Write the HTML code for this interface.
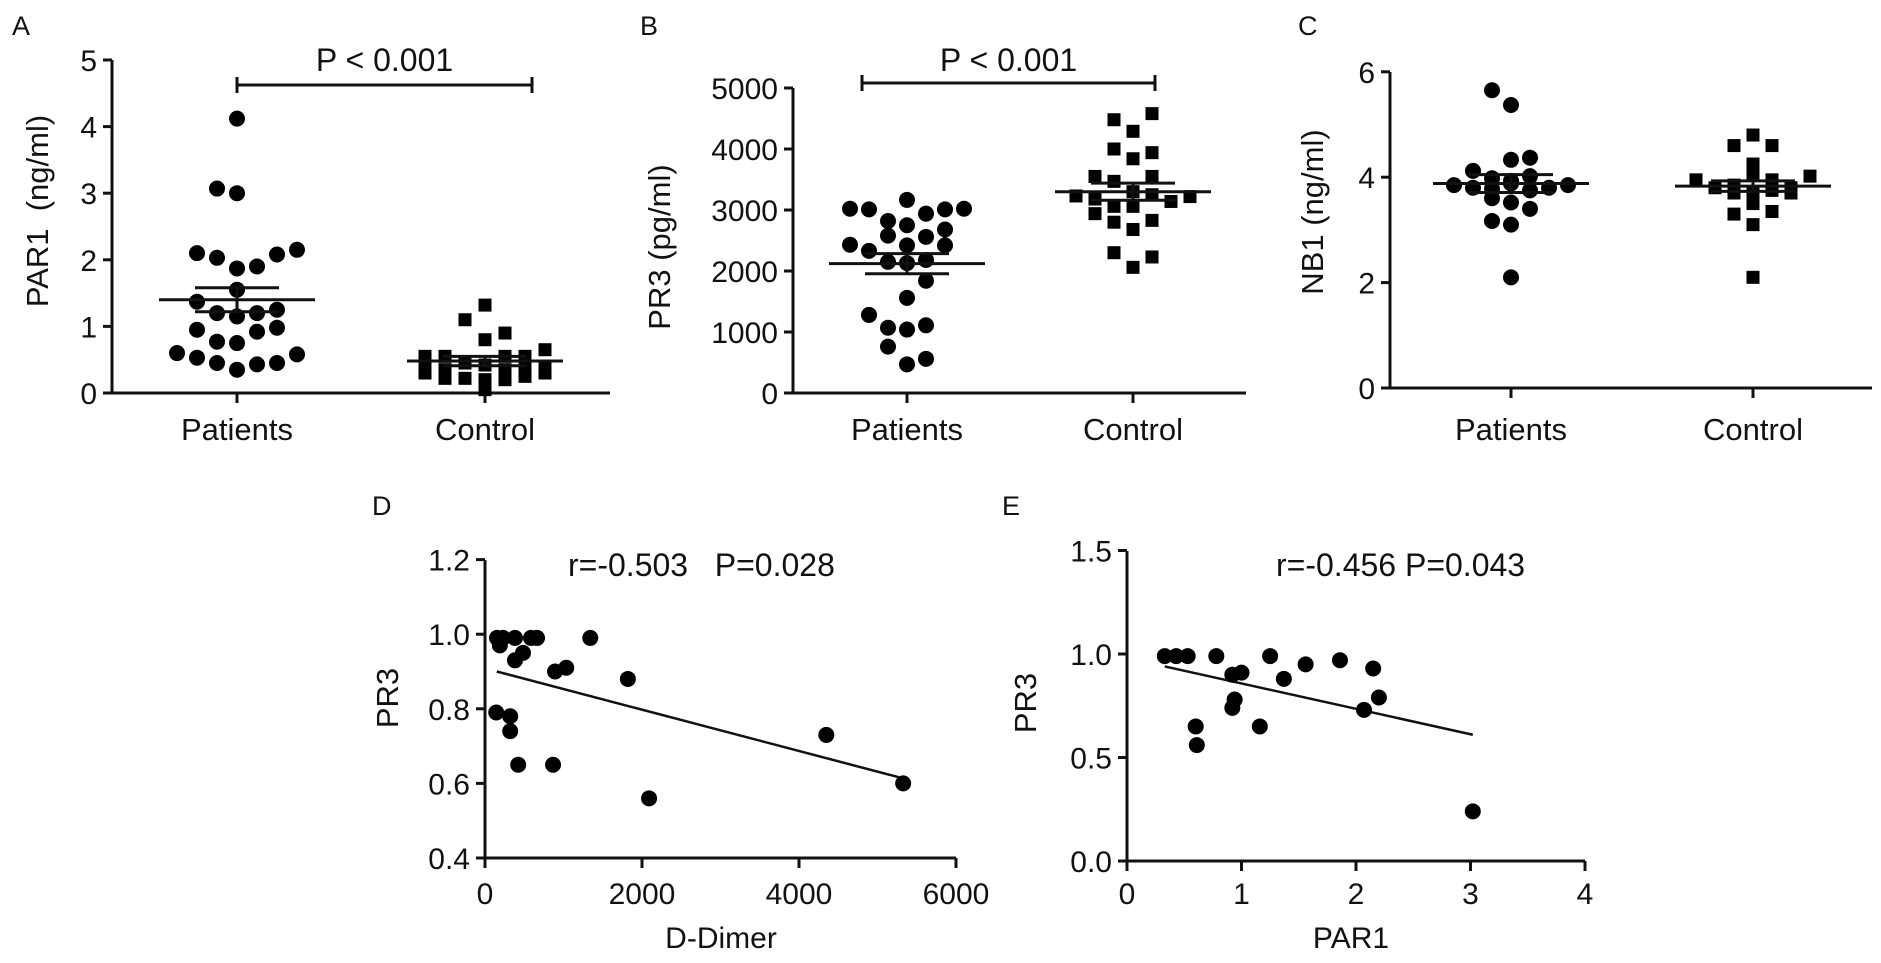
<!DOCTYPE html>
<html><head><meta charset="utf-8"><style>
html,body{margin:0;padding:0;background:#fff;}
svg{display:block;font-family:"Liberation Sans",Arial,sans-serif;}
text{fill:#111;white-space:pre;}
</style></head>
<body>
<svg id="fig" width="1881" height="963" viewBox="0 0 1881 963" xmlns="http://www.w3.org/2000/svg"></svg>
<script>
// ---------- data ----------
const catLabels = ["Patients", "Control"];
// Panel A: PAR1 (ng/ml) — [jitter slot, value]
const aPatients = [[0,4.12],[-1,3.07],[0,3.0],[-2,2.1],[-1,2.03],[0,1.87],[1,1.9],[2,2.08],[3,2.15],[-2,1.37],[0,1.55],[-1,1.2],[0,1.15],[1,1.2],[2,1.25],[-2,0.95],[1,0.92],[2,0.98],[-1,0.77],[0,0.75],[-3,0.6],[-2,0.53],[3,0.58],[-1,0.45],[0,0.35],[1,0.43],[2,0.45]];
const aControl = [[0,1.32],[-1,1.1],[0,0.8],[1,0.9],[3,0.65],[-3,0.55],[-2,0.55],[1,0.55],[2,0.55],[-3,0.42],[-1,0.45],[0,0.42],[2,0.42],[3,0.38],[-3,0.3],[-2,0.22],[-1,0.22],[0,0.2],[1,0.2],[2,0.25],[3,0.3],[0,0.05],[1,0.35],[-2,0.35]];
const aStats = {pMean:1.4, pSem:0.18, cMean:0.48, cSem:0.07};
const aTicks = [0,1,2,3,4,5];
// Panel B: PR3 (pg/ml)
const bPatients = [[0,3165],[-3,3020],[-2,3010],[1,2940],[2,3010],[3,3020],[-1,2820],[0,2750],[2,2680],[-1,2580],[1,2560],[-3,2430],[-2,2330],[0,2420],[2,2420],[-1,2150],[0,2130],[1,2180],[1,1840],[0,1560],[-2,1280],[-1,1070],[0,1040],[1,1110],[-1,760],[0,470],[1,560]];
const bControl = [[1,4580],[-1,4480],[0,4290],[-1,4000],[1,3940],[0,3840],[-2,3550],[-1,3470],[1,3550],[0,3300],[-3,3230],[-2,3180],[-1,3060],[0,3060],[1,3250],[2,3140],[3,3220],[-2,2940],[-1,2800],[1,2830],[0,2680],[-1,2300],[1,2230],[0,2060]];
const bStats = {pMean:2120, pSem:165, cMean:3300, cSem:140};
const bTicks = [0,1000,2000,3000,4000,5000];
// Panel C: NB1 (ng/ml)
const cPatients = [[-1,5.65],[0,5.37],[1,4.37],[0,4.33],[-2,4.12],[-1,3.98],[0,3.93],[1,4.02],[-3,3.85],[-2,3.8],[-1,3.78],[0,3.88],[1,3.75],[2,3.8],[3,3.85],[-1,3.6],[0,3.52],[1,3.4],[-1,3.17],[0,3.1],[0,2.1]];
const cControl = [[0,4.8],[-1,4.6],[1,4.6],[0,4.25],[-3,3.95],[3,4.02],[-2,3.8],[-1,3.85],[0,4.05],[1,3.95],[2,3.8],[-1,3.7],[0,3.72],[1,3.75],[2,3.7],[0,3.5],[1,3.35],[-1,3.3],[0,3.1],[0,2.1]];
const cStats = {pMean:3.88, pSem:0.17, cMean:3.83, cSem:0.1};
const cTicks = [0,2,4,6];
// Panel D: D-Dimer vs PR3
const dX = [153,229,189,382,586,663,382,484,1341,892,1035,1820,143,321,321,423,867,2090,4348,5327];
const dY = [0.99,0.99,0.97,0.99,0.99,0.99,0.93,0.95,0.99,0.90,0.91,0.88,0.79,0.78,0.74,0.65,0.65,0.56,0.73,0.60];
const dFit = [[150,0.90],[5300,0.615]];
const dXTicks = [0,2000,4000,6000];
const dYTicks = [0.4,0.6,0.8,1.0,1.2];
// Panel E: PAR1 vs PR3
const eX = [0.33,0.43,0.53,0.78,1.25,0.92,1.0,1.37,1.56,1.86,2.15,2.2,2.07,0.94,0.92,0.6,0.61,1.16,3.02];
const eY = [0.99,0.99,0.99,0.99,0.99,0.9,0.91,0.88,0.95,0.97,0.93,0.79,0.73,0.78,0.74,0.65,0.56,0.65,0.24];
const eFit = [[0.33,0.94],[3.02,0.61]];
const eXTicks = [0,1,2,3,4];
const eYTicks = [0.0,0.5,1.0,1.5];

// ---------- helpers ----------
const NS = "http://www.w3.org/2000/svg";
const svg = document.getElementById("fig");
function mk(tag, attrs, parent){
  const e = document.createElementNS(NS, tag);
  for (const k in attrs) e.setAttribute(k, attrs[k]);
  (parent||svg).appendChild(e);
  return e;
}
function txt(x,y,s,size,anchor,parent,rot){
  const t = mk("text",{x:x,y:y,"font-size":size,"text-anchor":anchor||"middle"},parent);
  if (rot) t.setAttribute("transform","rotate(-90 "+x+" "+y+")");
  t.textContent = s;
  return t;
}
function fmt(v,dec){return dec?v.toFixed(dec):String(v);}

function axes(g, L, o){
  const ya = mk("line",{x1:o.x0,y1:o.yTop,x2:o.x0,y2:o.y0,stroke:"#111","stroke-width":3},g);
  
  
  const xa = mk("line",{x1:o.x0,y1:o.y0,x2:o.xEnd,y2:o.y0,stroke:"#111","stroke-width":3},g);
  
  
  o.yTicks.forEach(v=>{
    const y=o.sy(v);
    mk("line",{x1:o.x0-9,y1:y,x2:o.x0,y2:y,stroke:"#111","stroke-width":3},g);
    const t=txt(o.x0-15,y+11,fmt(v,o.yDec),30,"end",g);
    
    
  });
}

function dotPanel(name, off, o, pts, ctl, st, ticks, ytitle, sig){
  const g = mk("g",{});
  
  
  o.yTicks = ticks;
  axes(g, null, o);
  const L = txt(off.lx, 35, off.letter, 27, "start", g);
  
  
  const yt = txt(o.titleX, o.titleY, ytitle, 31, "middle", g, true);
  
  
  [o.px, o.cx].forEach((cx,i)=>{
    mk("line",{x1:cx,y1:o.y0,x2:cx,y2:o.y0+10,stroke:"#111","stroke-width":3},g);
    const t=txt(cx,440,catLabels[i],31,"middle",g);
    
    
  });
  pts.forEach(p=>{
    const c = mk("circle",{cx:o.px+p[0]*o.sp,cy:o.sy(p[1]),r:8,fill:"#000"},g);
    
    
  });
  ctl.forEach(p=>{
    const r = mk("rect",{x:o.cx+p[0]*o.sp-6.5,y:o.sy(p[1])-6.5,width:13,height:13,fill:"#000"},g);
    
    
  });
  [[o.px,st.pMean,st.pSem],[o.cx,st.cMean,st.cSem]].forEach(m=>{
    const ml = mk("line",{x1:m[0]-78,y1:o.sy(m[1]),x2:m[0]+78,y2:o.sy(m[1]),stroke:"#111","stroke-width":3},g);
    
    
    [m[1]+m[2],m[1]-m[2]].forEach(v=>{
      const s = mk("line",{x1:m[0]-42,y1:o.sy(v),x2:m[0]+42,y2:o.sy(v),stroke:"#111","stroke-width":3},g);
      
      
    });
    mk("line",{x1:m[0],y1:o.sy(m[1]+m[2]),x2:m[0],y2:o.sy(m[1]-m[2]),stroke:"#111","stroke-width":3},g);
  });
  if (sig){
    const sb = mk("path",{d:"M"+sig.x1+" "+(sig.y-8)+"V"+(sig.y+8)+"M"+sig.x1+" "+sig.y+"H"+sig.x2+"M"+sig.x2+" "+(sig.y-8)+"V"+(sig.y+8),stroke:"#111","stroke-width":3,fill:"none"},g);
    
    
    const st2 = txt((sig.x1+sig.x2)/2, 71, "P < 0.001", 32, "middle", g);
    
    
  }
}

// Panel A
dotPanel("panel-a-par1", {lx:12,letter:"A"},
  {x0:112,y0:393,yTop:60,xEnd:610,sy:v=>393-v*66.6,px:237,cx:485,sp:20,titleX:48,titleY:211},
  aPatients,aControl,aStats,aTicks,"PAR1  (ng/ml)",{x1:237,x2:532,y:85});
// Panel B
dotPanel("panel-b-pr3", {lx:640,letter:"B"},
  {x0:793,y0:393,yTop:88,xEnd:1246,sy:v=>393-v*0.061,px:907,cx:1133,sp:19,titleX:670,titleY:247},
  bPatients,bControl,bStats,bTicks,"PR3 (pg/ml)",{x1:862,x2:1155,y:83});
// Panel C
dotPanel("panel-c-nb1", {lx:1298,letter:"C"},
  {x0:1390,y0:388,yTop:72,xEnd:1872,sy:v=>388-v*52.7,px:1511,cx:1753,sp:19,titleX:1323,titleY:212},
  cPatients,cControl,cStats,cTicks,"NB1 (ng/ml)",null);

function scatterPanel(name, letter, lx, o, xs, ys, fit, xT, yT, xTitle, ann){
  const g = mk("g",{});
  
  
  o.yTicks = yT;
  axes(g,null,o);
  xT.forEach(v=>{
    const x=o.sx(v);
    mk("line",{x1:x,y1:o.y0,x2:x,y2:o.y0+10,stroke:"#111","stroke-width":3},g);
    const t=txt(x,904,String(v),30,"middle",g);
    
    
  });
  const L = txt(lx,515,letter,27,"start",g);
  
  
  const xt = txt(o.xTitleX,948,xTitle,30,"middle",g);
  
  
  const yt = txt(o.titleX,o.titleY,"PR3",31,"middle",g,true);
  
  
  const an = mk("text",{x:o.annX,y:576,"font-size":32},g);
  an.textContent = ann;
  
  
  const fl = mk("line",{x1:o.sx(fit[0][0]),y1:o.sy(fit[0][1]),x2:o.sx(fit[1][0]),y2:o.sy(fit[1][1]),stroke:"#111","stroke-width":2.5},g);
  
  
  xs.forEach((x,i)=>{
    const c = mk("circle",{cx:o.sx(x),cy:o.sy(ys[i]),r:8,fill:"#000"},g);
    
    
  });
}
scatterPanel("panel-d-ddimer-pr3","D",372,
  {x0:485,y0:858,yTop:560,xEnd:956,yDec:1,sx:v=>485+v*(471/6000),sy:v=>858-(v-0.4)*373,xTitleX:721,titleX:398,titleY:698,annX:568},
  dX,dY,dFit,dXTicks,dYTicks,"D-Dimer","r=-0.503   P=0.028");
scatterPanel("panel-e-par1-pr3","E",1002,
  {x0:1127,y0:861,yTop:551,xEnd:1585,yDec:1,sx:v=>1127+v*114.5,sy:v=>861-v*207,xTitleX:1351,titleX:1036,titleY:703,annX:1276},
  eX,eY,eFit,eXTicks,eYTicks,"PAR1","r=-0.456 P=0.043");
</script>
</body></html>
